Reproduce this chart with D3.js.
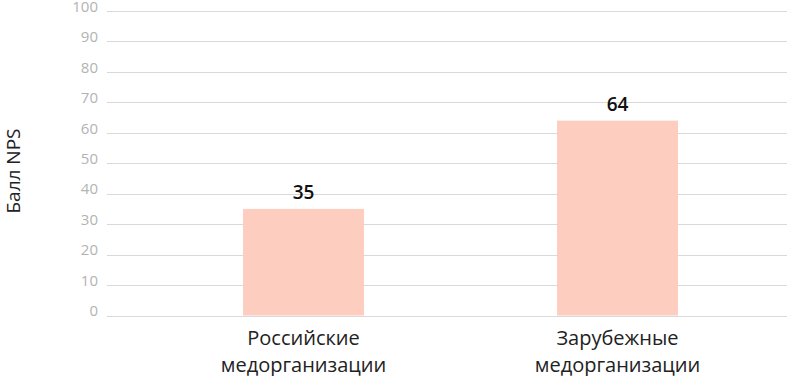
<!DOCTYPE html>
<html>
<head>
<meta charset="utf-8">
<script src="https://cdn.jsdelivr.net/npm/d3@7"></script>
<style>
  body { margin: 0; background: #fff; }
  svg { font-family: "Open Sans", "Noto Sans", sans-serif; }
</style>
</head>
<body>
<div id="chart-container"></div>
<script>
// Data
const categories = [["Российские", "медорганизации"], ["Зарубежные", "медорганизации"]];
const values = [35, 64];
const yTicks = [0, 10, 20, 30, 40, 50, 60, 70, 80, 90, 100];

const width = 787, height = 376;

const svg = d3.select("#chart-container")
    .append("svg")
    .attr("width", width)
    .attr("height", height);

const y = d3.scaleLinear().domain([0, 100]).range([315.5, 11]);
const x = d3.scaleBand().domain(d3.range(categories.length)).range([146.5, 774.5]).padding(0);
const barW = x.bandwidth() * 0.385;

// Gridlines
svg.append("g")
    .selectAll("line")
    .data(yTicks)
    .join("line")
    .attr("x1", 107)
    .attr("x2", width)
    .attr("y1", d => Math.round(y(d)) + 0.5)
    .attr("y2", d => Math.round(y(d)) + 0.5)
    .attr("stroke", "#d9d9d9")
    .attr("stroke-width", 1);

// Y tick labels
svg.append("g")
    .selectAll("text")
    .data(yTicks)
    .join("text")
    .attr("x", 98)
    .attr("y", d => y(d))
    .attr("dy", "0.05em")
    .attr("text-anchor", "end")
    .attr("font-size", "15px")
    .attr("fill", "#b3b3b3")
    .text(d => d);

// Y axis title
svg.append("text")
    .attr("transform", "translate(20,171) rotate(-90)")
    .attr("text-anchor", "middle")
    .attr("font-size", "19px")
    .attr("fill", "#222")
    .text("Балл NPS");

// Bars
svg.append("g")
    .selectAll("rect")
    .data(values)
    .join("rect")
    .attr("x", (d, i) => x(i) + (x.bandwidth() - barW) / 2)
    .attr("width", barW)
    .attr("y", d => y(d))
    .attr("height", d => y(0) - y(d))
    .attr("fill", "#fdcdc0");

// Value labels
svg.append("g")
    .selectAll("text")
    .data(values)
    .join("text")
    .attr("x", (d, i) => x(i) + x.bandwidth() / 2)
    .attr("y", d => y(d) - 10)
    .attr("text-anchor", "middle")
    .attr("font-size", "19px")
    .attr("font-weight", "600")
    .attr("fill", "#111")
    .text(d => d);

// Category labels
const cat = svg.append("g")
    .selectAll("text")
    .data(categories)
    .join("text")
    .attr("x", (d, i) => x(i) + x.bandwidth() / 2)
    .attr("y", 345)
    .attr("text-anchor", "middle")
    .attr("font-size", "20px")
    .attr("fill", "#222");

cat.selectAll("tspan")
    .data(d => d)
    .join("tspan")
    .attr("x", function () { return d3.select(this.parentNode).attr("x"); })
    .attr("dy", (d, i) => i === 0 ? 0 : 27)
    .text(d => d);
</script>
</body>
</html>
